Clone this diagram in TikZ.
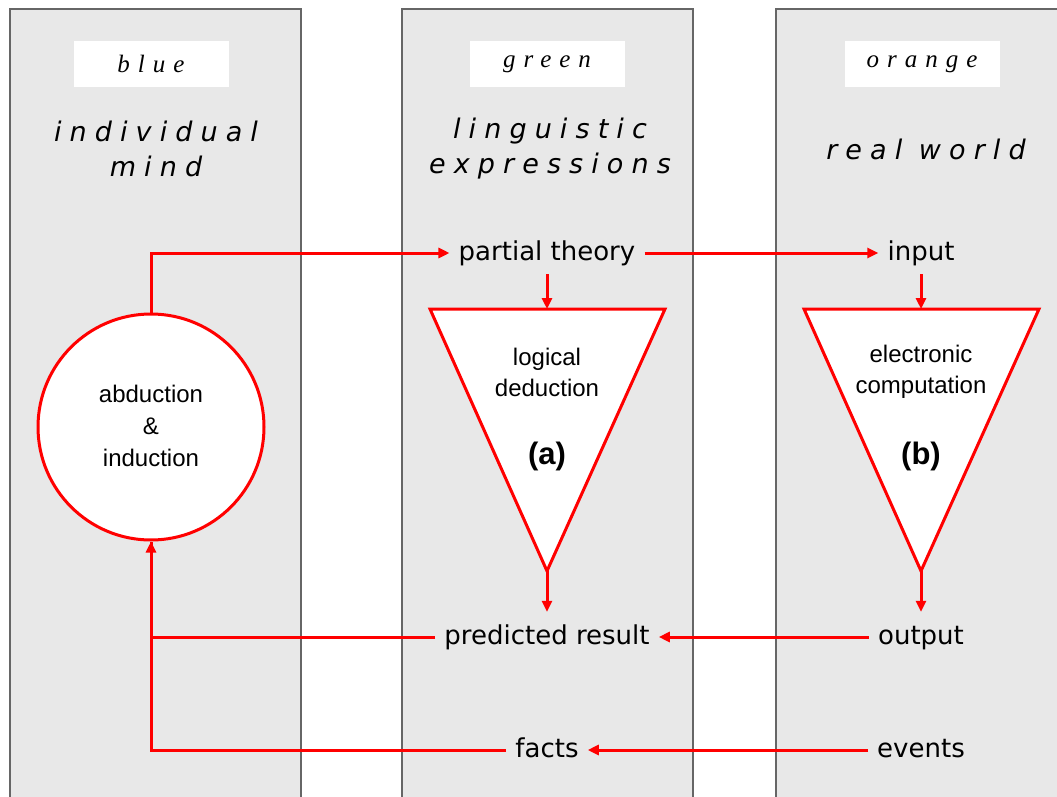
\documentclass[tikz,border=0pt]{standalone}
\usepackage{fontspec}
\setmainfont{DejaVu Sans}
\newfontfamily\arialfont{Liberation Sans}
\newfontfamily\headfont[LetterSpace=30]{DejaVu Sans}
\newfontfamily\tagfont[LetterSpace=32]{Liberation Serif}
\usetikzlibrary{arrows.meta}

\begin{document}
\begin{tikzpicture}[
x=1pt,y=-1pt,
>={Triangle[length=11pt,width=10pt]},
column/.style={draw=black!60,fill=black!9,line width=1.5pt},
tagbox/.style={fill=white,minimum width=155pt,minimum height=46pt,
font=\tagfont\itshape\fontsize{25}{28}\selectfont},
head/.style={align=center,font=\headfont\itshape\fontsize{27}{35}\selectfont},
term/.style={font=\fontsize{26}{31}\selectfont,inner xsep=9pt,inner ysep=8pt,
text height=20pt,text depth=6pt},
flow/.style={draw=red,line width=3pt},
tri/.style={draw=red,fill=white,line width=3pt,line join=miter},
inside/.style={align=center,font=\arialfont\fontsize{24}{31}\selectfont},
casemark/.style={font=\arialfont\bfseries\fontsize{31}{36}\selectfont}
]
\useasboundingbox (0,0) rectangle (1057,797);
\clip (0,0) rectangle (1057,797);

% three bands
\draw[column] (10,9)  rectangle (301,830);
\draw[column] (402,9) rectangle (693,830);
\draw[column] (776,9) rectangle (1067,830);

\node[tagbox] (blue)   at (151,64) {blue};
\node[tagbox] (green)  at (547,64) {green};
\node[tagbox] (orange) at (922,64) {orange};

\node[head] (mind)  at (156,149) {individual\\mind};
\node[head] (lang)  at (550,149) {linguistic\\expressions};
\node[head] (world) at (926,149) {real world};

% terms
\node[term] (theory)    at (547,253) {partial theory};
\node[term] (input)     at (921,253) {input};
\node[term] (predicted) at (547,637) {predicted result};
\node[term] (output)    at (921,637) {output};
\node[term] (facts)     at (547,750) {facts};
\node[term] (events)    at (921,750) {events};

\node[circle,draw=red,fill=white,line width=3pt,minimum size=226pt,inside,
font=\arialfont\fontsize{24}{32}\selectfont] (loop) at (151,427)
{\raisebox{3pt}{abduction}\\\raisebox{3pt}{\&}\\\raisebox{3pt}{induction}};

% triangles
\coordinate (dedA top) at (547,309);
\coordinate (dedA tip) at (547,571);
\coordinate (compB top) at (921,309);
\coordinate (compB tip) at (921,571);
\draw[tri] (430,309) -- (665,309) -- (dedA tip) -- cycle;
\draw[tri] (804,309) -- (1039,309) -- (compB tip) -- cycle;
\node[inside]   (dedA text)  at (547,372) {logical\\deduction};
\node[casemark] (dedA mark)  at (547,456) {(a)};
\node[inside]   (compB text) at (921,372) {electronic\\computation};
\node[casemark] (compB mark) at (921,456) {(b)};

\begin{scope}[flow]
\draw[->] (loop.north) |- (theory.west);
\draw[->] (theory.east) -- (input.west);
\draw[->] (theory.south) -- (dedA top);
\draw[->] (input.south) -- (compB top);
\draw[->,shorten >=4pt] (dedA tip) -- (predicted.north);
\draw[->,shorten >=4pt] (compB tip) -- (output.north);
\draw[->] (output.west) -- (predicted.east);
\draw[->] (events.west) -- (facts.east);
\draw[->] (predicted.west) -| (loop.south);
\draw (facts.west) -| (loop.south);
\end{scope}
\end{tikzpicture}
\end{document}
